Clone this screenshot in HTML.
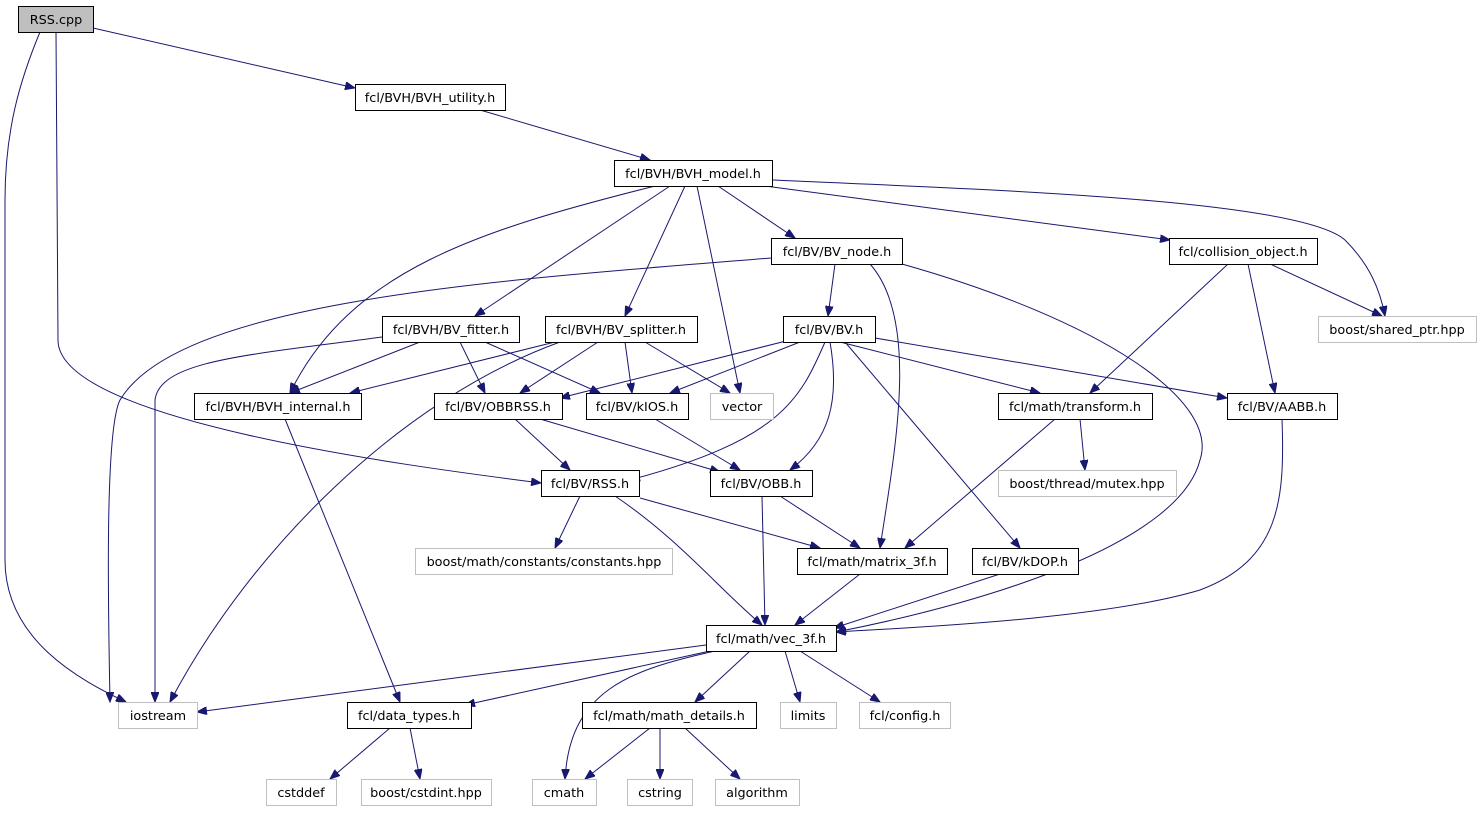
<!DOCTYPE html>
<html><head><meta charset="utf-8"><style>
body{margin:0;background:#fff}
svg{display:block}
text{font-family:"DejaVu Sans","Liberation Sans",sans-serif;font-size:12.8px;fill:#000}
.n rect{fill:#fff;stroke:#000;stroke-width:1}
.g rect{fill:#fff;stroke:#bfbfbf;stroke-width:1}
.e path{fill:none;stroke:#191970;stroke-width:1;marker-end:url(#a)}
</style></head><body>
<svg width="1481" height="813" viewBox="0 0 1481 813">
<defs><marker id="a" markerWidth="11" markerHeight="8" refX="10" refY="4" orient="auto" markerUnits="userSpaceOnUse"><path d="M0,0 L10,4 L0,8 Z" fill="#191970" stroke="#191970"/></marker></defs>
<g class="e">
<path d="M93,28 L355,88"/>
<path d="M40,32 C20,80 5,130 5,200 L5,560 C5,640 80,680 126,702"/>
<path d="M56,32 L58,340 C58,420 400,465 541,483"/>
<path d="M480,110 L650,160"/>
<path d="M718,186 L795,238"/>
<path d="M765,186 L1170,240"/>
<path d="M772,180 C1000,190 1300,200 1345,240 C1370,265 1380,290 1385,316"/>
<path d="M670,186 L475,316"/>
<path d="M685,186 L625,316"/>
<path d="M697,186 L740,393"/>
<path d="M655,186 C480,230 350,270 290,393"/>
<path d="M771,258 C500,280 180,300 120,400 C105,430 108,600 110,702"/>
<path d="M835,264 L828,316"/>
<path d="M870,264 C920,320 895,450 880,548"/>
<path d="M902,264 C1100,320 1220,400 1200,460 C1180,540 1000,600 836,632"/>
<path d="M1270,264 L1382,316"/>
<path d="M1228,264 L1090,393"/>
<path d="M1248,264 L1275,393"/>
<path d="M420,342 L290,393"/>
<path d="M460,342 L485,393"/>
<path d="M485,342 L600,393"/>
<path d="M382,337 C250,355 160,360 155,400 L155,702"/>
<path d="M555,342 L350,393"/>
<path d="M598,342 L520,393"/>
<path d="M625,342 L632,393"/>
<path d="M645,342 L730,393"/>
<path d="M560,342 C400,400 250,550 170,702"/>
<path d="M790,340 L560,398"/>
<path d="M800,342 L670,393"/>
<path d="M825,342 C800,400 780,440 630,480"/>
<path d="M830,342 C840,400 830,440 790,470"/>
<path d="M840,342 L1040,393"/>
<path d="M875,338 L1227,398"/>
<path d="M845,342 L1020,548"/>
<path d="M285,419 L400,702"/>
<path d="M515,419 L570,470"/>
<path d="M540,419 L720,472"/>
<path d="M655,419 L740,470"/>
<path d="M1080,419 L1085,470"/>
<path d="M1055,419 L905,548"/>
<path d="M1282,419 C1285,500 1280,560 1200,590 C1100,620 900,628 836,632"/>
<path d="M580,496 L555,548"/>
<path d="M640,498 L820,548"/>
<path d="M615,496 C680,540 720,590 762,625"/>
<path d="M780,496 L860,548"/>
<path d="M762,496 L765,625"/>
<path d="M860,574 L795,625"/>
<path d="M1000,574 L834,628"/>
<path d="M706,645 L197,712"/>
<path d="M710,651 L465,705"/>
<path d="M715,651 C630,670 570,690 565,779"/>
<path d="M750,651 L695,702"/>
<path d="M785,651 L800,702"/>
<path d="M800,651 L880,702"/>
<path d="M390,728 L330,779"/>
<path d="M410,728 L420,779"/>
<path d="M650,728 L585,779"/>
<path d="M660,728 L660,779"/>
<path d="M685,728 L740,779"/>
</g>
<g text-anchor="middle">
<g><rect x="18.5" y="6.5" width="75" height="26" fill="#bfbfbf" stroke="#000"/><text x="56" y="24">RSS.cpp</text></g>
<g class="n"><rect x="355.5" y="84.5" width="150" height="26"/><text x="430" y="102">fcl/BVH/BVH_utility.h</text></g>
<g class="n"><rect x="614.5" y="160.5" width="158" height="26"/><text x="693" y="178">fcl/BVH/BVH_model.h</text></g>
<g class="n"><rect x="771.5" y="238.5" width="131" height="26"/><text x="837" y="256">fcl/BV/BV_node.h</text></g>
<g class="n"><rect x="1169.5" y="238.5" width="148" height="26"/><text x="1243" y="256">fcl/collision_object.h</text></g>
<g class="g"><rect x="1318.5" y="316.5" width="158" height="26"/><text x="1397" y="334">boost/shared_ptr.hpp</text></g>
<g class="n"><rect x="382.5" y="316.5" width="137" height="26"/><text x="451" y="334">fcl/BVH/BV_fitter.h</text></g>
<g class="n"><rect x="545.5" y="316.5" width="152" height="26"/><text x="621" y="334">fcl/BVH/BV_splitter.h</text></g>
<g class="n"><rect x="783.5" y="316.5" width="92" height="26"/><text x="829" y="334">fcl/BV/BV.h</text></g>
<g class="n"><rect x="194.5" y="393.5" width="167" height="26"/><text x="278" y="411">fcl/BVH/BVH_internal.h</text></g>
<g class="n"><rect x="434.5" y="393.5" width="128" height="26"/><text x="498" y="411">fcl/BV/OBBRSS.h</text></g>
<g class="n"><rect x="586.5" y="393.5" width="102" height="26"/><text x="637" y="411">fcl/BV/kIOS.h</text></g>
<g class="g"><rect x="710.5" y="393.5" width="63" height="26"/><text x="742" y="411">vector</text></g>
<g class="n"><rect x="998.5" y="393.5" width="154" height="26"/><text x="1075" y="411">fcl/math/transform.h</text></g>
<g class="n"><rect x="1227.5" y="393.5" width="110" height="26"/><text x="1282" y="411">fcl/BV/AABB.h</text></g>
<g class="n"><rect x="541.5" y="470.5" width="98" height="26"/><text x="590" y="488">fcl/BV/RSS.h</text></g>
<g class="n"><rect x="710.5" y="470.5" width="102" height="26"/><text x="761" y="488">fcl/BV/OBB.h</text></g>
<g class="g"><rect x="998.5" y="470.5" width="178" height="26"/><text x="1087" y="488">boost/thread/mutex.hpp</text></g>
<g class="g"><rect x="415.5" y="548.5" width="257" height="26"/><text x="544" y="566">boost/math/constants/constants.hpp</text></g>
<g class="n"><rect x="797.5" y="548.5" width="150" height="26"/><text x="872" y="566">fcl/math/matrix_3f.h</text></g>
<g class="n"><rect x="972.5" y="548.5" width="106" height="26"/><text x="1025" y="566">fcl/BV/kDOP.h</text></g>
<g class="n"><rect x="706.5" y="625.5" width="130" height="26"/><text x="771" y="643">fcl/math/vec_3f.h</text></g>
<g class="g"><rect x="118.5" y="702.5" width="79" height="26"/><text x="158" y="720">iostream</text></g>
<g class="n"><rect x="347.5" y="702.5" width="124" height="26"/><text x="409" y="720">fcl/data_types.h</text></g>
<g class="n"><rect x="582.5" y="702.5" width="174" height="26"/><text x="669" y="720">fcl/math/math_details.h</text></g>
<g class="g"><rect x="780.5" y="702.5" width="56" height="26"/><text x="808" y="720">limits</text></g>
<g class="g"><rect x="859.5" y="702.5" width="91" height="26"/><text x="905" y="720">fcl/config.h</text></g>
<g class="g"><rect x="266.5" y="779.5" width="70" height="26"/><text x="301" y="797">cstddef</text></g>
<g class="g"><rect x="361.5" y="779.5" width="130" height="26"/><text x="426" y="797">boost/cstdint.hpp</text></g>
<g class="g"><rect x="532.5" y="779.5" width="64" height="26"/><text x="564" y="797">cmath</text></g>
<g class="g"><rect x="627.5" y="779.5" width="65" height="26"/><text x="660" y="797">cstring</text></g>
<g class="g"><rect x="715.5" y="779.5" width="84" height="26"/><text x="757" y="797">algorithm</text></g>
</g>
</svg>
</body></html>
